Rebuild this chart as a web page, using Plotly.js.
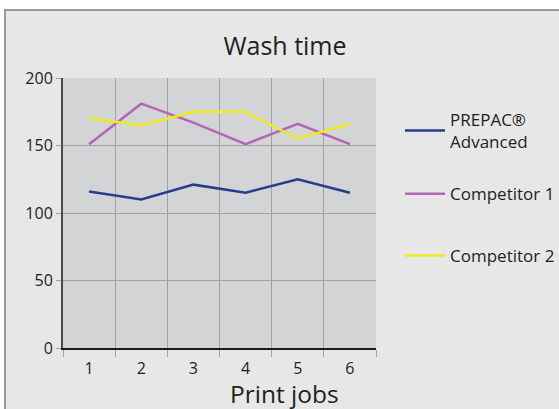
<!DOCTYPE html>
<html>
<head>
<meta charset="utf-8">
<script src="https://cdn.plot.ly/plotly-3.0.1.min.js"></script>
<style>
  html, body { margin: 0; padding: 0; background: #ffffff; width: 559px; height: 409px; overflow: hidden; }
  #wrap { position: absolute; left: 4px; top: 9px; width: 555px; height: 400px;
          border-top: 2px solid #9a9b9c; border-left: 2px solid #9a9b9c; background: #e6e7e6; }
  #chart { width: 553px; height: 398px; }
</style>
</head>
<body>
<div id="wrap"><div id="chart"></div></div>
<script>
const categories = ["1", "2", "3", "4", "5", "6"];
const seriesNames = ["PREPAC®<br>Advanced", "Competitor 1", "Competitor 2"];
const prepacValues = [116, 110, 121, 115, 125, 115];
const competitor1Values = [151, 181, 167, 151, 166, 151];
const competitor2Values = [170, 165, 175, 175, 155, 166];
const seriesColors = ["#263d8c", "#b565b5", "#eeea1c"];
const yTicks = [0, 50, 100, 150, 200];

const fontFam = "Open Sans, sans-serif";
const textColor = "#231f20";
const legendIds = ["legend", "legend2", "legend3"];
const legendY = [0.6985, 0.540, 0.3844];

const allValues = [prepacValues, competitor1Values, competitor2Values];
const traces = allValues.map((vals, i) => ({
  type: "scatter",
  mode: "lines",
  x: categories,
  y: vals,
  name: seriesNames[i],
  legend: legendIds[i],
  line: { color: seriesColors[i], width: 2.5 },
  hoverinfo: "skip"
}));

const layout = {
  width: 553,
  height: 398,
  paper_bgcolor: "rgba(0,0,0,0)",
  plot_bgcolor: "#d3d4d6",
  margin: { l: 57, r: 183, t: 67, b: 61 },
  font: { family: fontFam, color: textColor, size: 16 },
  title: {
    text: "Wash time",
    font: { family: fontFam, size: 25, color: textColor },
    xref: "container", x: 0.5045, xanchor: "center",
    yref: "container", y: 0.912, yanchor: "middle"
  },
  xaxis: {
    type: "category",
    range: [-0.5, 5.5],
    tickson: "boundaries",
    ticks: "outside",
    ticklen: 7,
    tickcolor: "#a0a1a3",
    tickwidth: 1,
    showgrid: true,
    gridcolor: "#a0a1a3",
    gridwidth: 1,
    showline: true,
    linecolor: "#1a1a1a",
    linewidth: 1.5,
    zeroline: false,
    ticklabelstandoff: 5,
    tickfont: { family: fontFam, size: 16, color: textColor },
    fixedrange: true
  },
  yaxis: {
    range: [0, 200],
    tickvals: yTicks,
    ticktext: yTicks.map(String),
    ticks: "outside",
    ticklen: 5,
    tickcolor: "#a0a1a3",
    tickwidth: 1,
    showgrid: true,
    gridcolor: "#a0a1a3",
    gridwidth: 1,
    showline: true,
    linecolor: "#4a4a4a",
    linewidth: 2,
    zeroline: false,
    tickfont: { family: fontFam, size: 16, color: textColor },
    fixedrange: true
  },
  annotations: [{
    text: "Print jobs",
    xref: "paper", x: 0.709, xanchor: "center",
    yref: "paper", y: -0.168, yanchor: "middle",
    showarrow: false,
    font: { family: fontFam, size: 24.5, color: textColor }
  }],
  showlegend: true
};
legendIds.forEach((id, i) => {
  layout[id] = {
    xref: "container", x: 0.7125, xanchor: "left",
    yref: "container", y: legendY[i], yanchor: "middle",
    bgcolor: "rgba(0,0,0,0)",
    itemwidth: 40,
    font: { family: fontFam, size: 17, color: textColor }
  };
});

Plotly.newPlot("chart", traces, layout, { displayModeBar: false, staticPlot: true });
</script>
</body>
</html>
